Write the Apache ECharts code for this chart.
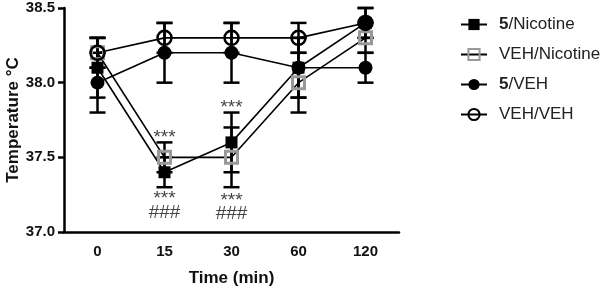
<!DOCTYPE html>
<html>
<head>
<meta charset="utf-8">
<script src="https://cdn.jsdelivr.net/npm/echarts@6/dist/echarts.min.js"></script>
<style>
  html, body { margin: 0; padding: 0; background: #fff; }
  #chart { width: 600px; height: 292px; }
</style>
</head>
<body>
<div id="chart"></div>
<script>
const times = ['0', '15', '30', '60', '120'];

const nic5 = [38.1, 37.4, 37.6, 38.1, 38.4];
const nic5Err = [0.2, 0.1, 0.2, 0.2, 0.1];
const vehNic = [38.2, 37.5, 37.5, 38.0, 38.3];
const vehNicErr = [0.1, 0.1, 0.2, 0.2, 0.1];
const veh5 = [38.0, 38.2, 38.2, 38.1, 38.1];
const veh5Err = [0.2, 0.2, 0.2, 0.2, 0.1];
const vehVeh = [38.2, 38.3, 38.3, 38.3, 38.4];
const vehVehErr = [0.1, 0.1, 0.1, 0.1, 0.1];

const annoCats = ['15', '30', '15', '15', '30', '30'];
const annoVals = [37.63, 37.83, 37.22, 37.13, 37.21, 37.12];
const annoTexts = ['***', '***', '***', '###', '***', '###'];

const chart = echarts.init(document.getElementById('chart'));
const FONT = 'Liberation Sans, Arial, sans-serif';

const errorSeries = (vals, errs) => ({
  type: 'custom',
  z: 1,
  silent: true,
  data: vals.map((v, i) => [i, v - errs[i], v + errs[i]]),
  renderItem: (params, api) => {
    const lo = api.coord([api.value(0), api.value(1)]);
    const hi = api.coord([api.value(0), api.value(2)]);
    const w = 8;
    const style = { stroke: '#000', lineWidth: 2.5 };
    return {
      type: 'group',
      children: [
        { type: 'line', shape: { x1: lo[0], y1: lo[1], x2: hi[0], y2: hi[1] }, style },
        { type: 'line', shape: { x1: lo[0] - w, y1: lo[1], x2: lo[0] + w, y2: lo[1] }, style },
        { type: 'line', shape: { x1: hi[0] - w, y1: hi[1], x2: hi[0] + w, y2: hi[1] }, style },
      ],
    };
  },
});

const lineSeries = (name, vals, symbol, size, itemStyle) => ({
  name,
  type: 'line',
  z: 3,
  data: vals,
  symbol,
  symbolSize: size,
  showAllSymbol: true,
  itemStyle,
  lineStyle: { color: '#000', width: 1.6 },
  emphasis: { disabled: true },
});

chart.setOption({
  animation: false,
  grid: { left: 64, right: 201, top: 8, bottom: 60, outerBoundsMode: 'none' },
  legend: {
    orient: 'vertical',
    left: 455,
    top: 11,
    itemWidth: 26,
    itemHeight: 14,
    itemGap: 13,
    textStyle: { fontFamily: FONT, fontSize: 17, color: '#222', padding: [0, 0, 0, 7],
      rich: { b: { fontFamily: FONT, fontSize: 17, fontWeight: 'bold', color: '#222' } } },
    formatter: (n) => n.startsWith('5/') ? '{b|5}' + n.slice(1) : n,
    data: ['5/Nicotine', 'VEH/Nicotine', '5/VEH', 'VEH/VEH'],
  },
  xAxis: {
    type: 'category',
    data: times,
    boundaryGap: true,
    name: 'Time (min)',
    nameLocation: 'middle',
    nameGap: 38,
    nameMoveOverlap: false,
    nameTextStyle: { fontFamily: FONT, fontSize: 17, fontWeight: 'bold', color: '#111' },
    axisLine: { lineStyle: { color: '#000', width: 2.5 } },
    axisTick: { alignWithLabel: true, length: 6, lineStyle: { width: 2.5, color: '#000' } },
    axisLabel: { fontFamily: FONT, fontSize: 15, fontWeight: 'bold', color: '#111', margin: 12 },
  },
  yAxis: {
    type: 'value',
    min: 37.0,
    max: 38.5,
    interval: 0.5,
    name: 'Temperature °C',
    nameLocation: 'middle',
    nameGap: 42,
    nameMoveOverlap: false,
    nameTextStyle: { fontFamily: FONT, fontSize: 17, fontWeight: 'bold', color: '#111' },
    axisLine: { show: true, lineStyle: { color: '#000', width: 2.5 } },
    axisTick: { show: true, length: 6, lineStyle: { width: 2.5, color: '#000' } },
    splitLine: { show: false },
    axisLabel: { fontFamily: FONT, fontSize: 15, fontWeight: 'bold', color: '#111', margin: 9,
      formatter: (v) => v.toFixed(1) },
  },
  series: [
    errorSeries(nic5, nic5Err),
    errorSeries(vehNic, vehNicErr),
    errorSeries(veh5, veh5Err),
    errorSeries(vehVeh, vehVehErr),
    lineSeries('5/Nicotine', nic5, 'rect', 12, { color: '#000' }),
    lineSeries('VEH/Nicotine', vehNic, 'rect', 12,
      { color: 'rgba(0,0,0,0)', borderColor: '#999', borderWidth: 3 }),
    lineSeries('5/VEH', veh5, 'circle', 14, { color: '#000' }),
    lineSeries('VEH/VEH', vehVeh, 'circle', 14,
      { color: 'rgba(0,0,0,0)', borderColor: '#000', borderWidth: 2.5 }),
    {
      type: 'scatter',
      z: 4,
      silent: true,
      symbolSize: 0,
      data: annoCats.map((c, i) => ({ value: [c, annoVals[i]], label: { formatter: annoTexts[i] } })),
      label: { show: true, position: 'inside', fontFamily: FONT, fontSize: 19, color: '#111' },
    },
  ],
});
</script>
</body>
</html>
